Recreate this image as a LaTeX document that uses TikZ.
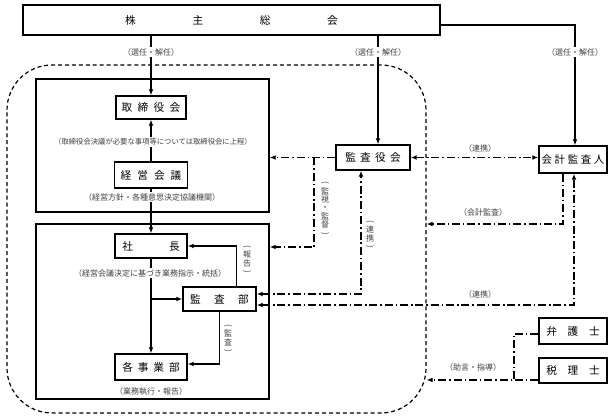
\documentclass[tikz,border=0pt]{standalone}
\usepackage{fontspec}
\setmainfont{Noto Sans CJK JP}
\usepackage{graphicx}
\usetikzlibrary{arrows.meta}
\newcommand{\vparL}{\rotatebox[origin=c]{-90}{(}}
\newcommand{\vparR}{\rotatebox[origin=c]{-90}{)}}
\newcommand{\gp}[1]{\hspace{#1pt}}
\begin{document}
\begin{tikzpicture}[x=0.75pt,y=-0.75pt,
  box/.style={draw, line width=1.1pt, fill=white, inner sep=0pt, font=\fontsize{8}{10}\selectfont},
  frame/.style={draw, line width=1.1pt, inner sep=0pt},
  grpbox/.style={draw, line width=0.9pt, dash pattern=on 3pt off 2.2pt, rounded corners=33.75pt, inner sep=0pt},
  conn/.style={line width=0.8pt, -{Latex[length=4.5pt,width=3.6pt]}},
  dd/.style={line width=0.9pt, dash pattern=on 6pt off 2.2pt on 1.1pt off 2.2pt},
  arr/.style={-{Latex[length=4.5pt,width=3.6pt]}},
  arrboth/.style={{Latex[length=4.5pt,width=3.6pt]}-{Latex[length=4.5pt,width=3.6pt]}},
  lbl/.style={fill=white, inner sep=1pt, text=black!75, font=\fontsize{6}{7}\selectfont},
  vlbl/.style={inner sep=0pt, align=center, text=black!75, font=\fontsize{6}{6.3}\selectfont},
]
\useasboundingbox (0,0) rectangle (613,420);

% group boundary
\node[grpbox, minimum width=314.25pt, minimum height=261pt] (grp) at (216.5,239) {};

% frames
\node[frame, minimum width=174.75pt, minimum height=99.75pt] (board) at (152.5,145.5) {};
\node[frame, minimum width=174.75pt, minimum height=131.25pt] (exec) at (152.5,311.5) {};

% boxes
\node[box, minimum width=312.75pt, minimum height=22.5pt] (soukai) at (231.5,20) {株\gp{42.5}主\gp{42.5}総\gp{42.5}会};
\node[box, minimum width=52.5pt, minimum height=17.25pt] (torishimari) at (151,107.5) {取\gp{4}締\gp{4}役\gp{4}会};
\node[box, minimum width=54.75pt, minimum height=19.5pt] (keiei) at (151,175) {経\gp{4.5}営\gp{4.5}会\gp{4.5}議};
\node[box, minimum width=54pt, minimum height=18pt] (shachou) at (151,246) {社\gp{27}長};
\node[box, minimum width=54.75pt, minimum height=18pt] (kansabu) at (219.5,299) {監\gp{10}査\gp{10}部};
\node[box, minimum width=54pt, minimum height=19.5pt] (jigyoubu) at (151,367) {各\gp{3.7}事\gp{3.7}業\gp{3.7}部};
\node[box, minimum width=55.5pt, minimum height=18.75pt] (kansayakukai) at (373,157.5) {監\gp{3.2}査\gp{3.2}役\gp{3.2}会};
\node[box, minimum width=51pt, minimum height=20.25pt, font=\fontsize{7.8}{10}\selectfont] (kaikei) at (573,159.5) {会\gp{2}計\gp{2}監\gp{2}査\gp{2}人};
\node[box, minimum width=51pt, minimum height=19.5pt] (bengoshi) at (573,331) {弁\gp{8}護\gp{8}士};
\node[box, minimum width=51pt, minimum height=18.75pt] (zeirishi) at (573,370.5) {税\gp{8}理\gp{8}士};

% helper coordinates
\coordinate (kyTop) at ([xshift=3.75pt]kansayakukai.north);
\coordinate (kkTop) at ([xshift=1.5pt]kaikei.north);
\coordinate (monX) at (314,0);
\coordinate (monY) at (0,247);
\coordinate (kbA) at ([yshift=3.75pt]kansabu.east);
\coordinate (kyB) at ([xshift=-9pt]kansayakukai.south);
\coordinate (kbB) at ([yshift=-4.5pt]kansabu.east);
\coordinate (kkB) at ([xshift=0.75pt]kaikei.south);
\coordinate (kkA) at ([xshift=-7.5pt]kaikei.south);
\coordinate (audY) at (0,224);
\coordinate (bgA) at ([yshift=-2.25pt]bengoshi.west);
\coordinate (zrA) at ([yshift=-7.1pt]zeirishi.west);
\coordinate (advX) at (514,0);
\coordinate (rptX) at ([xshift=12.4pt]kansabu.north);
\coordinate (audJ) at ([yshift=2.25pt]jigyoubu.east);

% solid connectors
\draw[conn] (soukai.south -| torishimari.north) -- (torishimari.north);
\draw[conn] (keiei.north) -- (torishimari.south);
\draw[conn] (keiei.south) -- (shachou.north);
\draw[conn] (shachou.south) -- (jigyoubu.north);
\draw[conn] (kansabu.west -| shachou.south) -- (kansabu.west);
\draw[conn] (rptX) |- (shachou.east);
\draw[conn] (kansabu.south) |- (audJ);
\draw[conn] (kyTop |- soukai.south) -- (kyTop);
\draw[conn] ([yshift=-3.75pt]soukai.east) -| (kkTop);

% dash-dot connectors
\draw[dd,arrboth] (kansayakukai.east) -- (kansayakukai.east -| kaikei.west);
\draw[dd,arr] (kansayakukai.west) -- (kansayakukai.west -| board.east);
\draw[dd,arr] (monX |- kansayakukai.west) |- (monY -| exec.east);
\draw[dd,arrboth] (kbA) -| (kyB);
\draw[dd,arrboth] (kbB) -| (kkB);
\draw[dd,arr] (kkA) |- (audY -| grp.east);
\draw[dd] (bgA) -| (advX |- zrA);
\draw[dd,arr] (zrA) -- (zrA -| grp.east);

% labels
\node[lbl] (l1) at (151,52) {（選任・解任）};
\node[lbl] (l2) at (378,52) {（選任・解任）};
\node[lbl] (l3) at (575,52) {（選任・解任）};
\node[lbl, font=\fontsize{5.5}{7}\selectfont] (l4) at (153,142) {（取締役会決議が必要な事項等については取締役会に上程）};
\node[lbl] (l5) at (152,197) {（経営方針・各種意思決定協議機関）};
\node[lbl] (l6) at (150,273) {（経営会議決定に基づき業務指示・統括）};
\node[lbl] (l7) at (151,391) {（業務執行・報告）};
\node[lbl] (l8) at (480,148) {（連携）};
\node[lbl] (l9) at (483,212) {（会計監査）};
\node[lbl] (l10) at (480,294) {（連携）};
\node[lbl] (l11) at (473,367) {（助言・指導）};

\node[vlbl] (v1) at (325,209) {\vparL\\監\\視\\・\\監\\督\\\vparR};
\node[vlbl] (v2) at (370,235) {\vparL\\連\\携\\\vparR};
\node[vlbl] (v3) at (247,260) {\vparL\\報\\告\\\vparR};
\node[vlbl] (v4) at (228,339) {\vparL\\監\\査\\\vparR};
\end{tikzpicture}
\end{document}
